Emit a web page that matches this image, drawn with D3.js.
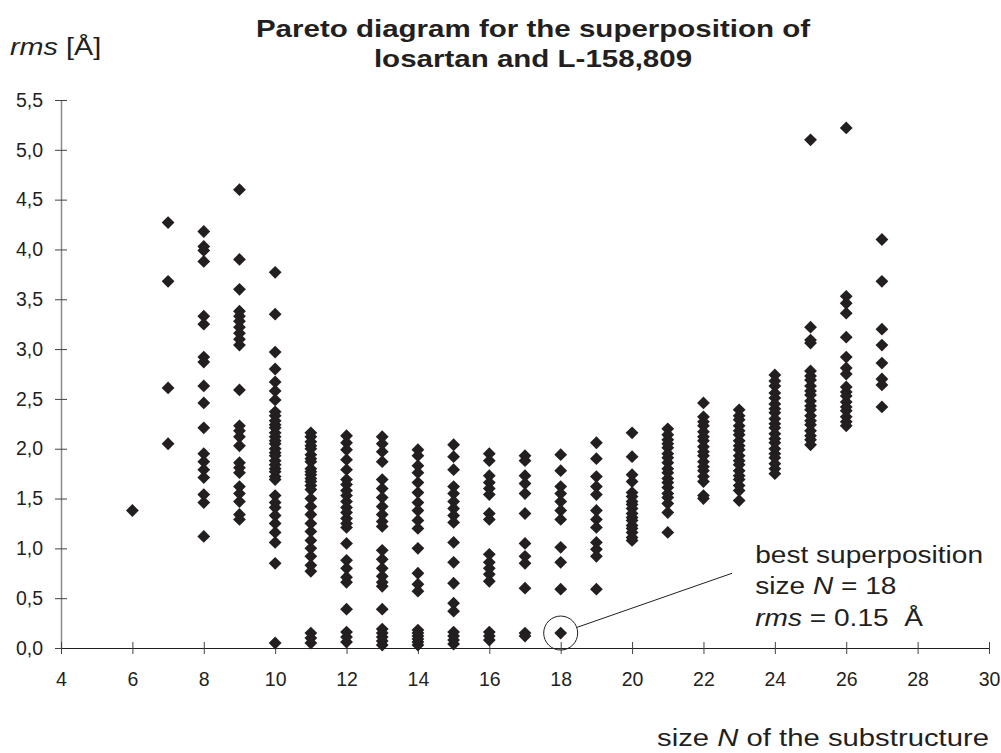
<!DOCTYPE html>
<html>
  <head>
    <meta charset="utf-8" />
    <title>Pareto diagram</title>
    <script src="https://d3js.org/d3.v7.min.js"></script>
    <style>
      body {
        margin: 0;
        background: #fff;
      }
      text {
        font-family: Arial, "Liberation Sans", sans-serif;
        fill: #231f20;
      }
    </style>
  </head>
  <body>

    <svg id="viz"></svg>

    <script>

      // substructure sizes and the rms values found for each size
      var sizes = [6, 7, 8, 9, 10, 11, 12, 13, 14, 15, 16, 17, 18, 19, 20, 21, 22, 23, 24, 25, 26, 27];

      var rms = [
        [1.38],
        [4.27, 3.68, 2.61, 2.05],
        [4.18, 4.03, 3.99, 3.88, 3.33, 3.25, 2.92, 2.87, 2.63, 2.46, 2.21, 1.95, 1.87, 1.79, 1.71, 1.54, 1.46, 1.12],
        [4.60, 3.90, 3.60, 3.38, 3.33, 3.28, 3.22, 3.16, 3.10, 3.04, 2.59, 2.23, 2.18, 2.12, 2.03, 1.86, 1.81, 1.76, 1.62, 1.55, 1.47, 1.34, 1.29],
        [3.77, 3.35, 2.97, 2.80, 2.67, 2.58, 2.49, 2.37, 2.33, 2.28, 2.24, 2.21, 2.16, 2.12, 2.08, 2.05, 2.00, 1.96, 1.93, 1.88, 1.84, 1.80, 1.77, 1.72, 1.69,
         1.53, 1.46, 1.41, 1.33, 1.25, 1.16, 1.06, 0.85, 0.05],
        [2.16, 2.12, 2.07, 2.03, 2.00, 1.94, 1.90, 1.87, 1.80, 1.77, 1.74, 1.70, 1.67, 1.63, 1.59, 1.50, 1.42, 1.34, 1.25, 1.17, 1.08, 1.00, 0.92, 0.83, 0.77,
         0.15, 0.10, 0.05],
        [2.13, 2.06, 1.99, 1.89, 1.79, 1.69, 1.64, 1.58, 1.53, 1.47, 1.41, 1.36, 1.30, 1.25, 1.21, 1.05, 0.88, 0.80, 0.71, 0.66, 0.39, 0.16, 0.11, 0.06],
        [2.12, 2.05, 1.97, 1.87, 1.69, 1.60, 1.51, 1.42, 1.34, 1.27, 1.22, 0.98, 0.89, 0.80, 0.72, 0.66, 0.62, 0.39, 0.19, 0.15, 0.11, 0.07, 0.03],
        [1.99, 1.93, 1.83, 1.76, 1.66, 1.56, 1.46, 1.38, 1.28, 1.20, 1.00, 0.75, 0.64, 0.57, 0.18, 0.15, 0.12, 0.09, 0.06, 0.03],
        [2.04, 1.92, 1.79, 1.62, 1.55, 1.47, 1.40, 1.33, 1.26, 1.06, 0.86, 0.65, 0.45, 0.37, 0.16, 0.12, 0.08, 0.04],
        [1.95, 1.88, 1.73, 1.66, 1.60, 1.54, 1.35, 1.29, 0.94, 0.86, 0.80, 0.74, 0.67, 0.16, 0.12, 0.08],
        [1.93, 1.88, 1.73, 1.65, 1.55, 1.35, 1.05, 0.92, 0.85, 0.60, 0.15, 0.12],
        [1.94, 1.78, 1.62, 1.55, 1.47, 1.38, 1.29, 1.01, 0.86, 0.59, 0.15],
        [2.06, 1.90, 1.72, 1.62, 1.54, 1.38, 1.29, 1.21, 1.06, 0.99, 0.92, 0.59],
        [2.16, 1.92, 1.74, 1.67, 1.56, 1.52, 1.47, 1.44, 1.40, 1.35, 1.31, 1.28, 1.23, 1.20, 1.16, 1.11, 1.08],
        [2.20, 2.14, 2.09, 2.05, 2.01, 1.95, 1.91, 1.86, 1.80, 1.76, 1.70, 1.66, 1.61, 1.55, 1.51, 1.45, 1.36, 1.16],
        [2.46, 2.32, 2.27, 2.23, 2.17, 2.12, 2.08, 2.02, 1.97, 1.93, 1.87, 1.82, 1.78, 1.72, 1.67, 1.53, 1.50],
        [2.39, 2.33, 2.29, 2.23, 2.18, 2.14, 2.08, 2.03, 1.99, 1.93, 1.88, 1.84, 1.78, 1.73, 1.69, 1.63, 1.58, 1.48],
        [2.74, 2.68, 2.63, 2.56, 2.51, 2.45, 2.40, 2.36, 2.30, 2.25, 2.21, 2.15, 2.10, 2.06, 2.00, 1.95, 1.91, 1.85, 1.80, 1.75],
        [5.10, 3.22, 3.09, 3.06, 2.78, 2.73, 2.69, 2.63, 2.58, 2.54, 2.48, 2.43, 2.39, 2.33, 2.28, 2.24, 2.18, 2.13, 2.09, 2.04],
        [5.22, 3.53, 3.46, 3.36, 3.12, 2.92, 2.81, 2.75, 2.62, 2.57, 2.53, 2.47, 2.42, 2.38, 2.32, 2.27, 2.23],
        [4.10, 3.68, 3.20, 3.04, 2.86, 2.70, 2.64, 2.42]
      ];

      var xTicks = [4, 6, 8, 10, 12, 14, 16, 18, 20, 22, 24, 26, 28, 30];
      var yTicks = [0, 0.5, 1, 1.5, 2, 2.5, 3, 3.5, 4, 4.5, 5, 5.5];

      var titleLines = ["Pareto diagram for the superposition of", "losartan and L-158,809"];
      var best = {n: 18, rms: 0.15};

      var width = 1001;
      var height = 753;

      var svg = d3.select("#viz")
        .attr("width", width)
        .attr("height", height);

      var x = d3.scaleLinear().domain([4, 30]).range([61, 989]);
      var y = d3.scaleLinear().domain([0, 5.5]).range([648, 100]);

      var fmt = function(d) { return d3.format(".1f")(d).replace(".", ","); };

      // the original text is drawn a little wider than it is tall
      function wideText(px, py, size, stretch, anchor) {
        return svg.append("g")
          .attr("transform", "translate(" + px + "," + py + ") scale(" + stretch + ",1)")
          .append("text")
          .attr("font-size", size)
          .attr("text-anchor", anchor || "start");
      }

      // y axis (grey line, ticks crossing it)
      var yAxis = svg.append("g")
        .attr("transform", "translate(" + x(4) + ",0)")
        .call(d3.axisLeft(y).tickValues(yTicks).tickFormat(fmt).tickSizeInner(6).tickSizeOuter(0));
      yAxis.select(".domain").attr("stroke", "#8a8a8a").attr("stroke-width", 1.5);
      yAxis.selectAll(".tick line").attr("x2", 6).attr("x1", -6).attr("stroke", "#444");
      yAxis.selectAll(".tick text")
        .attr("font-size", 19.5)
        .attr("x", -18)
        .attr("fill", "#231f20");

      // x axis
      var xAxis = svg.append("g")
        .attr("transform", "translate(0," + y(0) + ")")
        .call(d3.axisBottom(x).tickValues(xTicks).tickSizeInner(6).tickSizeOuter(0).tickPadding(18));
      xAxis.select(".domain").attr("stroke", "#231f20").attr("stroke-width", 1.2);
      xAxis.selectAll(".tick line").attr("y1", -6).attr("y2", 6).attr("stroke", "#444");
      xAxis.selectAll(".tick text")
        .attr("font-size", 19.5)
        .attr("fill", "#231f20");

      // points
      var points = [];
      sizes.forEach(function(n, i) {
        rms[i].forEach(function(v) { points.push({n: n, rms: v}); });
      });

      var diamond = d3.symbol().type(d3.symbolSquare).size(82);

      svg.append("g").selectAll("path")
        .data(points)
        .enter().append("path")
        .attr("d", diamond)
        .attr("fill", "#231f20")
        .attr("transform", function(d) {
          return "translate(" + x(d.n) + "," + y(d.rms) + ") rotate(45)";
        });

      // title
      titleLines.forEach(function(line, i) {
        wideText(533, 37 + i * 30, 24, 1.23, "middle")
          .attr("font-weight", "bold")
          .text(line);
      });

      // y axis title
      var yt = wideText(10, 55, 24, 1.2);
      yt.append("tspan").attr("font-style", "italic").text("rms");
      yt.append("tspan").text(" [Å]");

      // x axis title
      var xt = wideText(989, 746, 24, 1.22, "end");
      xt.append("tspan").text("size ");
      xt.append("tspan").attr("font-style", "italic").text("N");
      xt.append("tspan").text(" of the substructure");

      // annotation of the best superposition
      var cx = x(best.n), cy = y(best.rms);
      svg.append("circle")
        .attr("cx", cx)
        .attr("cy", cy)
        .attr("r", 17)
        .attr("fill", "none")
        .attr("stroke", "#231f20")
        .attr("stroke-width", 1);

      var ex = x(22.8), ey = y(0.75);
      var ang = Math.atan2(ey - cy, ex - cx);
      svg.append("line")
        .attr("x1", cx + 17 * Math.cos(ang))
        .attr("y1", cy + 17 * Math.sin(ang))
        .attr("x2", ex)
        .attr("y2", ey)
        .attr("stroke", "#231f20")
        .attr("stroke-width", 1);

      var tx = x(23.45);
      var t1 = wideText(tx, y(0.85), 24, 1.17);
      t1.text("best superposition");
      var t2 = wideText(tx, y(0.54), 24, 1.17);
      t2.append("tspan").text("size ");
      t2.append("tspan").attr("font-style", "italic").text("N");
      t2.append("tspan").text(" = " + best.n);
      var t3 = wideText(tx, y(0.22), 24, 1.17);
      t3.append("tspan").attr("font-style", "italic").text("rms");
      t3.append("tspan").text(" = " + best.rms.toFixed(2) + "\u00a0\u00a0Å");

    </script>
  </body>
</html>
